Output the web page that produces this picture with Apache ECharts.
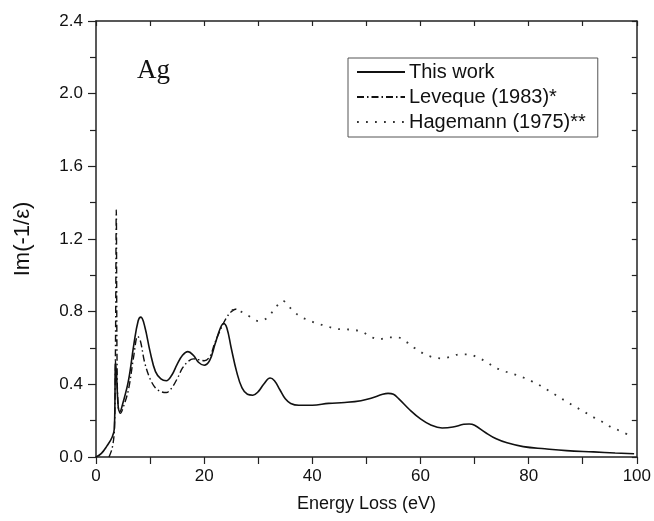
<!DOCTYPE html>
<html>
<head>
<meta charset="utf-8">
<script src="https://cdn.jsdelivr.net/npm/echarts@6/dist/echarts.min.js"></script>
<style>html,body{margin:0;padding:0;background:#fff;}#c{width:654px;height:521px;}</style>
</head>
<body>
<div id="c"></div>
<script>
// Energy loss (eV) and Im(-1/eps) values
const thisWorkX = [0,1,2,3,3.4,3.6,3.8,4.1,4.4,5,6,7,7.8,8.3,9,10,11,12,13,14,15,16,17,18,19,20,21,22,23,23.6,24.2,25,26,27,28,29,30,31,32.2,33,34,35,36,37.5,40,43,46,49,51,53,54,55,56,58,60,62,64,66,68,69,70,72,74,76,79,83,87,92,96,99.5];
const thisWorkY = [0,0.02,0.06,0.11,0.16,0.53,0.45,0.28,0.25,0.3,0.42,0.62,0.75,0.77,0.72,0.58,0.47,0.43,0.42,0.45,0.51,0.56,0.58,0.56,0.52,0.505,0.53,0.62,0.71,0.735,0.71,0.6,0.47,0.38,0.345,0.34,0.36,0.4,0.435,0.42,0.37,0.32,0.295,0.285,0.285,0.295,0.3,0.31,0.325,0.345,0.35,0.345,0.32,0.26,0.21,0.175,0.16,0.165,0.18,0.182,0.175,0.135,0.1,0.078,0.057,0.045,0.035,0.028,0.022,0.018];

const levequeX = [2.4,3,3.4,3.6,3.75,3.9,4.1,4.5,5,6,7,7.7,8.2,9,10,11,12,13,14,15,16,17,18,19,20,21,22,23,24,25,26,26.5];
const levequeY = [0,0.05,0.15,0.6,1.36,0.5,0.28,0.24,0.27,0.37,0.56,0.665,0.64,0.52,0.43,0.38,0.36,0.355,0.38,0.43,0.49,0.525,0.54,0.535,0.53,0.55,0.63,0.7,0.76,0.8,0.815,0.815];

const hagemannX = [25.1,26.8,28.5,30.1,31.7,33.1,34.5,36,37.6,39.2,40.9,42.6,44.3,45.9,47.5,49.2,50.8,52.4,54.1,55.7,57.4,59,60.7,62.2,63.9,65.6,67.2,68.8,70.5,72.1,73.7,75.4,77.2,78.8,80.5,82.1,83.7,85.3,87,88.6,90.2,91.8,93.6,95.1,96.8,98.5];
const hagemannY = [0.81,0.8,0.772,0.748,0.767,0.818,0.86,0.818,0.776,0.754,0.735,0.721,0.706,0.703,0.7,0.69,0.662,0.648,0.659,0.659,0.633,0.598,0.567,0.55,0.543,0.552,0.565,0.565,0.549,0.525,0.494,0.473,0.457,0.44,0.418,0.394,0.365,0.336,0.305,0.277,0.25,0.222,0.194,0.167,0.145,0.121];

const seriesNames = ['This work', 'Leveque (1983)*', 'Hagemann (1975)**'];
const xTicks = {min: 0, max: 100, interval: 20};
const yTicks = {min: 0, max: 2.4, interval: 0.4};

const zip = (xs, ys) => xs.map((x, i) => [x, ys[i]]);
const FONT = 'Liberation Sans';
const AX = '#222';

const chart = echarts.init(document.getElementById('c'), null, {renderer: 'canvas'});
chart.setOption({
  backgroundColor: '#fff',
  animation: false,
  grid: {left: 96, right: 17, top: 21, bottom: 64, containLabel: false},
  graphic: [{
    type: 'text', left: 137, top: 57,
    style: {text: 'Ag', font: '27px "Liberation Serif"', fill: '#111'}
  }],
  legend: {
    orient: 'vertical', left: 348, top: 58,
    padding: [4, 12, 5, 8], itemGap: 5, itemWidth: 48, itemHeight: 21,
    borderColor: '#555', borderWidth: 1,
    itemStyle: {opacity: 0},
    textStyle: {fontFamily: FONT, fontSize: 20, color: '#111', padding: [0, 0, 0, -1]},
    data: seriesNames
  },
  xAxis: [{
    type: 'value', position: 'bottom', min: xTicks.min, max: xTicks.max, interval: xTicks.interval,
    name: 'Energy Loss (eV)', nameLocation: 'middle', nameGap: 38,
    nameTextStyle: {fontFamily: FONT, fontSize: 18, color: '#111'},
    axisLine: {show: true, onZero: false, lineStyle: {color: AX, width: 1.5}},
    axisTick: {show: true, inside: false, length: 7, lineStyle: {color: AX, width: 1.2}},
    minorTick: {show: true, splitNumber: 2, length: 7, lineStyle: {color: AX, width: 1.2}},
    axisLabel: {fontFamily: FONT, fontSize: 17, color: '#111', margin: 11},
    splitLine: {show: false}
  }, {
    type: 'value', position: 'top', min: xTicks.min, max: xTicks.max, interval: 10,
    axisLine: {show: true, onZero: false, lineStyle: {color: AX, width: 1.5}},
    axisTick: {show: true, inside: true, length: 5, lineStyle: {color: AX, width: 1.2}},
    axisLabel: {show: false}, splitLine: {show: false}
  }],
  yAxis: [{
    type: 'value', position: 'left', min: yTicks.min, max: yTicks.max, interval: yTicks.interval,
    name: 'Im(-1/\u03b5)', nameLocation: 'middle', nameGap: 62,
    nameTextStyle: {fontFamily: FONT, fontSize: 22, color: '#111'},
    axisLine: {show: true, onZero: false, lineStyle: {color: AX, width: 1.5}},
    axisTick: {show: true, inside: false, length: 8, lineStyle: {color: AX, width: 1.2}},
    minorTick: {show: true, splitNumber: 2, length: 6, lineStyle: {color: AX, width: 1.2}},
    axisLabel: {fontFamily: FONT, fontSize: 17, color: '#111', margin: 13, formatter: v => v.toFixed(1)},
    splitLine: {show: false}
  }, {
    type: 'value', position: 'right', min: yTicks.min, max: yTicks.max, interval: 0.2,
    axisLine: {show: true, onZero: false, lineStyle: {color: AX, width: 1.5}},
    axisTick: {show: true, inside: true, length: 5, lineStyle: {color: AX, width: 1.2}},
    axisLabel: {show: false}, splitLine: {show: false}
  }],
  series: [{
    name: seriesNames[0], type: 'line', data: zip(thisWorkX, thisWorkY),
    showSymbol: false, symbol: 'none', smooth: 0.4,
    lineStyle: {color: '#111', width: 1.6, type: 'solid'}, itemStyle: {color: '#111'}
  }, {
    name: seriesNames[1], type: 'line', data: zip(levequeX, levequeY),
    showSymbol: false, symbol: 'none', smooth: 0.35,
    lineStyle: {color: '#111', width: 1.4, type: [7, 3, 1.5, 3]}, itemStyle: {color: '#111'}
  }, {
    name: seriesNames[2], type: 'line', data: zip(hagemannX, hagemannY),
    showSymbol: false, symbol: 'none', smooth: 0.35,
    lineStyle: {color: '#333', width: 1.8, type: [1.8, 7.2], cap: 'butt'}, itemStyle: {color: '#333'}
  }]
});
</script>
</body>
</html>
